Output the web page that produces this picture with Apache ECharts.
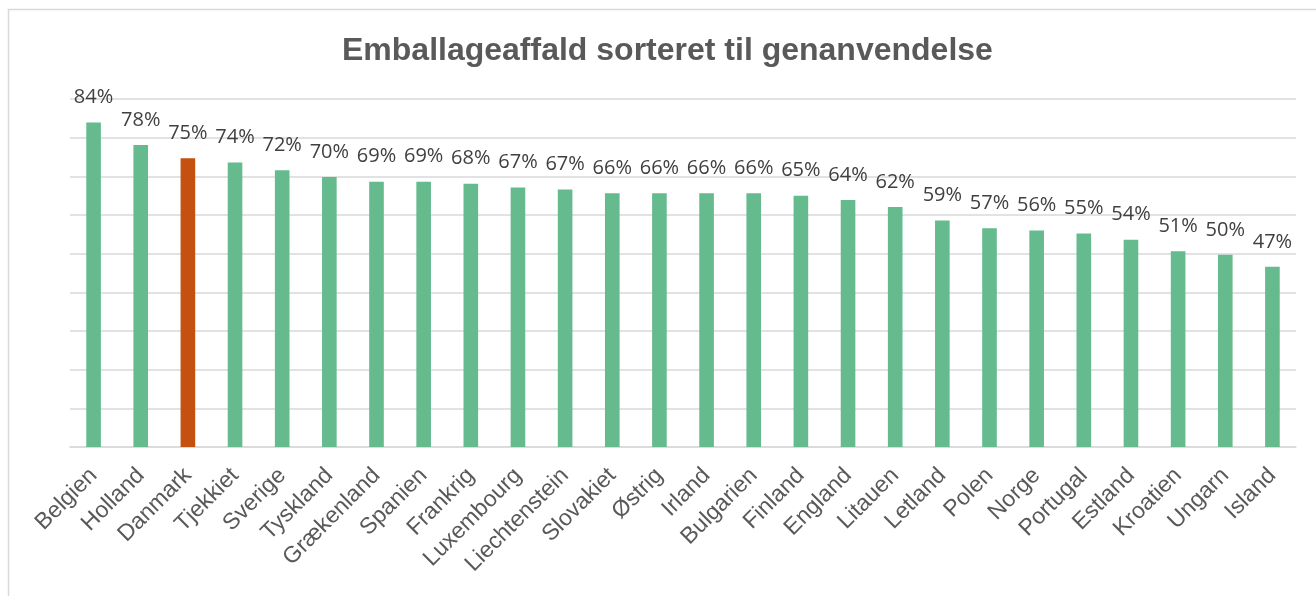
<!DOCTYPE html>
<html>
<head>
<meta charset="utf-8">
<script src="https://cdn.jsdelivr.net/npm/echarts@6/dist/echarts.min.js"></script>
<style>
html,body{margin:0;padding:0;background:#fff;}
#chart{width:1316px;height:596px;}
</style>
</head>
<body>
<div id="chart"></div>
<script>
const titleText = 'Emballageaffald sorteret til genanvendelse';
const countries = ['Belgien','Holland','Danmark','Tjekkiet','Sverige','Tyskland','Grækenland','Spanien','Frankrig','Luxembourg','Liechtenstein','Slovakiet','Østrig','Irland','Bulgarien','Finland','England','Litauen','Letland','Polen','Norge','Portugal','Estland','Kroatien','Ungarn','Island'];
const shares = [83.9,78.1,74.7,73.6,71.6,69.8,68.6,68.6,68.1,67.1,66.6,65.6,65.6,65.6,65.6,65.0,63.9,62.1,58.6,56.6,56.0,55.2,53.6,50.6,49.7,46.6];
const highlighted = 'Danmark';
const yTicks = [0,10,20,30,40,50,60,70,80,90];

const GREEN = '#65BA8E';
const ORANGE = '#C4510F';

const chart = echarts.init(document.getElementById('chart'), null, {renderer:'canvas'});
chart.setOption({
  animation:false,
  backgroundColor:'#ffffff',
  graphic:[{
    type:'rect', silent:true, z:-10,
    shape:{x:8.5,y:9.5,width:1330,height:620},
    style:{fill:'none',stroke:'#d9d9d9',lineWidth:1.5}
  }],
  title:{
    text:titleText,
    left:337, top:30,
    textStyle:{fontFamily:'Liberation Sans, Arial, sans-serif',fontSize:32,fontWeight:'bold',color:'#595959'}
  },
  grid:{left:70,right:20,top:99,bottom:149,containLabel:false},
  xAxis:{
    type:'category',
    data:countries,
    axisLine:{show:true,lineStyle:{color:'#d9d9d9',width:1.5}},
    axisTick:{show:false},
    axisLabel:{rotate:45,margin:25,interval:0,color:'#595959',fontSize:23,fontFamily:'Liberation Sans, Arial, sans-serif'}
  },
  yAxis:{
    type:'value',
    min:yTicks[0], max:yTicks[yTicks.length-1], interval:10,
    axisLabel:{show:false},
    axisLine:{show:false}, axisTick:{show:false},
    splitLine:{show:true,lineStyle:{color:'#d9d9d9',width:1.5}}
  },
  series:[{
    type:'bar',
    barWidth:'31%',
    data:shares.map((v,i)=>({value:v,itemStyle:{color:countries[i]===highlighted?ORANGE:GREEN}})),
    label:{
      show:true, position:'top', distance:15,
      formatter:p=>Math.round(p.value)+'%',
      color:'#404040', fontSize:20, lineHeight:20,
      fontFamily:'Open Sans, sans-serif'
    }
  }]
});
</script>
</body>
</html>
